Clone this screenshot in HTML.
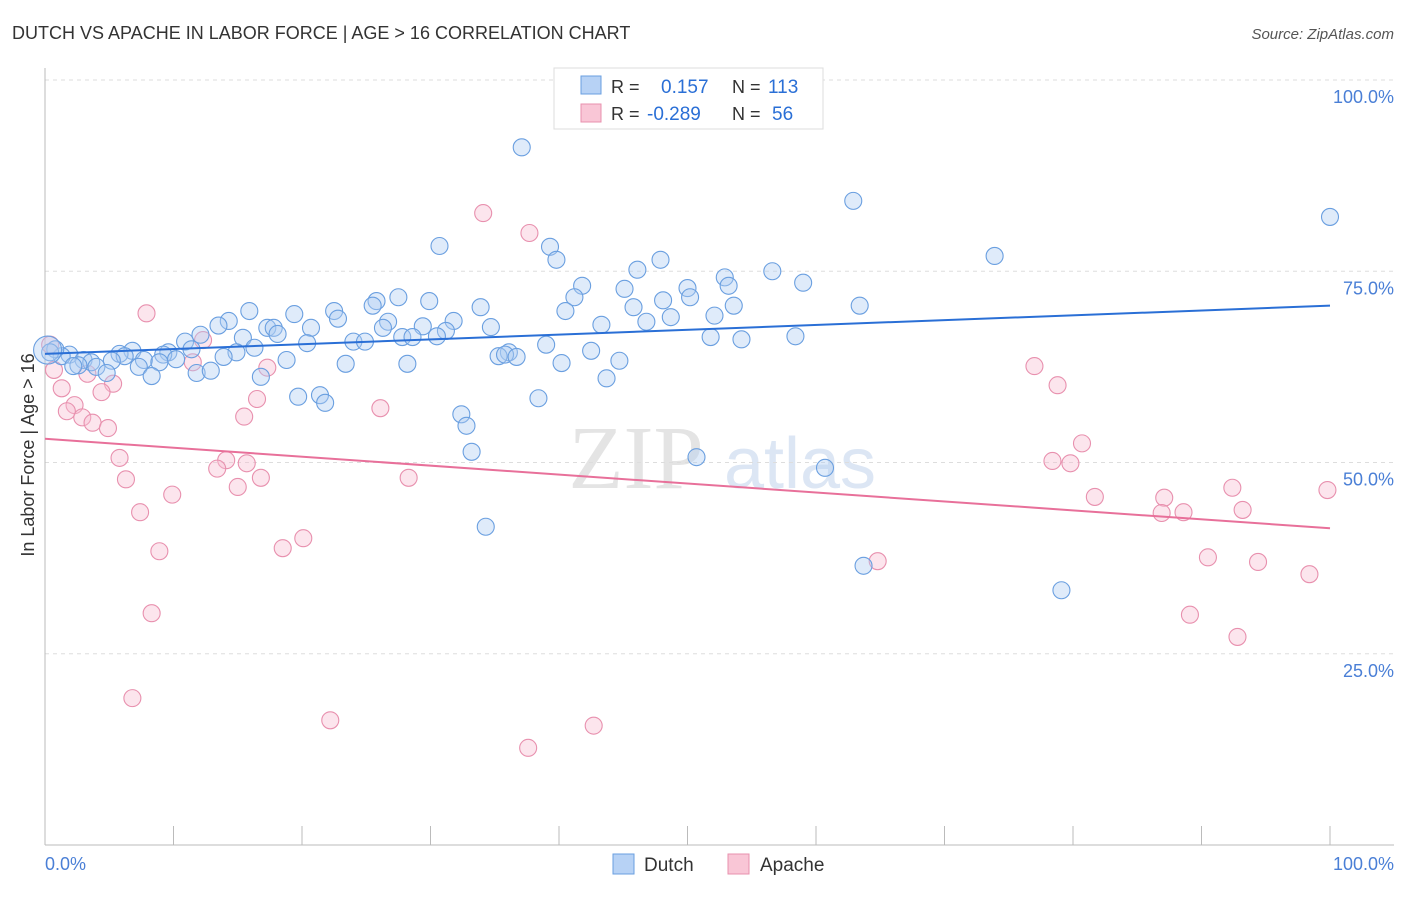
<!DOCTYPE html>
<html><head><meta charset="utf-8"><style>
body{margin:0;background:#fff;font-family:"Liberation Sans",sans-serif;}
</style></head><body>
<svg width="1406" height="892" viewBox="0 0 1406 892" xmlns="http://www.w3.org/2000/svg">
<text x="12" y="39" font-size="18" fill="#333">DUTCH VS APACHE IN LABOR FORCE | AGE &gt; 16 CORRELATION CHART</text>
<text x="1394" y="39" font-size="15" fill="#555" font-style="italic" text-anchor="end">Source: ZipAtlas.com</text>
<text x="636" y="488" font-size="90" fill="#e4e4e4" font-family="Liberation Serif" text-anchor="middle">ZIP</text>
<text x="800" y="488" font-size="72" fill="#dce6f4" text-anchor="middle">atlas</text>
<g id="grid"></g><g id="axes"></g><g id="pts"></g><g id="trends"></g>
<text x="34" y="455" font-size="18" fill="#333" text-anchor="middle" transform="rotate(-90 34 455)">In Labor Force | Age &gt; 16</text>
<text x="45" y="870" font-size="18" fill="#4a7fd6">0.0%</text>
<text x="1394" y="870" font-size="18" fill="#4a7fd6" text-anchor="end">100.0%</text>
<g>
<rect x="554" y="68" width="269" height="61" fill="#fff" stroke="#ddd"/>
<rect x="581" y="76" width="20" height="18" fill="#b7d2f5" stroke="#6a9fe0"/>
<rect x="581" y="104" width="20" height="18" fill="#f9c6d6" stroke="#e890ae"/>
<text x="611" y="93" font-size="18" fill="#333">R = </text><text x="661" y="93" font-size="19" fill="#2a6fd6">0.157</text>
<text x="732" y="93" font-size="18" fill="#333">N = </text><text x="768" y="93" font-size="19" fill="#2a6fd6">113</text>
<text x="611" y="120" font-size="18" fill="#333">R = </text><text x="647" y="120" font-size="19" fill="#2a6fd6">-0.289</text>
<text x="732" y="120" font-size="18" fill="#333">N = </text><text x="772" y="120" font-size="19" fill="#2a6fd6">56</text>
</g>
<g>
<rect x="613" y="854" width="21" height="20" fill="#b7d2f5" stroke="#6a9fe0"/>
<text x="644" y="871" font-size="19" fill="#333">Dutch</text>
<rect x="728" y="854" width="21" height="20" fill="#f9c6d6" stroke="#e890ae"/>
<text x="760" y="871" font-size="19" fill="#333">Apache</text>
</g>
</svg>
<script>
const yTicks=[25,50,75,100];
const yTickLabels=["25.0%","50.0%","75.0%","100.0%"];
const xTicks=[0,10,20,30,40,50,60,70,80,90,100];
const dutchX=[37.1,62.9,100,30.7,39.3,39.8,73.9,47.9,46.1,56.6,52.9,59.0,41.8,50.0,53.2,45.1,27.5,41.2,50.2,25.8,29.9,48.1,25.5,33.9,45.8,53.6,63.4,15.9,22.5,19.4,40.5,14.3,22.8,31.8,52.1,48.7,46.8,13.5,17.3,17.8,20.7,26.7,26.3,29.4,34.7,43.3,12.1,18.1,31.2,30.5,27.8,28.6,51.8,54.2,58.4,15.4,10.9,24.0,24.9,20.4,39.0,16.3,6.8,11.4,9.6,9.2,14.9,36.1,42.5,5.8,6.2,13.9,35.3,35.8,36.7,1.9,1.3,0.8,0.4,3.0,3.6,7.7,10.2,5.2,18.8,44.7,2.6,4.0,7.3,8.9,23.4,28.2,40.2,2.2,4.8,11.8,12.9,8.3,16.8,43.7,19.7,21.4,21.8,38.4,32.4,32.8,33.2,50.7,60.7,34.3,63.7,79.1,0.2];
const dutchY=[91.2,84.2,82.1,78.3,78.2,76.5,77.0,76.5,75.2,75.0,74.2,73.5,73.1,72.8,73.1,72.7,71.6,71.6,71.6,71.1,71.1,71.2,70.5,70.3,70.3,70.5,70.5,69.8,69.8,69.4,69.8,68.5,68.8,68.5,69.2,69.0,68.4,67.9,67.6,67.6,67.6,68.4,67.6,67.8,67.7,68.0,66.7,66.8,67.2,66.5,66.4,66.4,66.4,66.1,66.5,66.3,65.8,65.8,65.8,65.6,65.4,65.0,64.6,64.8,64.4,64.1,64.4,64.4,64.6,64.2,63.9,63.8,63.9,64.1,63.8,64.1,63.9,64.8,64.4,63.4,63.1,63.4,63.5,63.3,63.4,63.3,62.7,62.5,62.5,63.1,62.9,62.9,63.0,62.6,61.7,61.7,62.0,61.3,61.2,61.0,58.6,58.8,57.8,58.4,56.3,54.8,51.4,50.7,49.3,41.6,36.5,33.3,64.7];
const apacheX=[34.1,37.7,7.9,12.3,0.4,0.7,1.3,11.5,17.3,3.3,5.3,4.4,2.3,1.7,2.9,3.7,4.9,16.5,26.1,15.5,5.8,14.1,15.7,13.4,6.3,16.8,28.3,15.0,9.9,7.4,8.9,20.1,18.5,8.3,6.8,22.2,42.7,37.6,64.8,77.0,78.8,80.7,78.4,79.8,81.7,87.1,86.9,88.6,92.4,93.2,99.8,90.5,94.4,98.4,89.1,92.8];
const apacheY=[82.6,80.0,69.5,66.0,65.4,62.1,59.7,63.1,62.4,61.6,60.3,59.2,57.5,56.7,55.9,55.2,54.5,58.3,57.1,56.0,50.6,50.3,49.9,49.2,47.8,48.0,48.0,46.8,45.8,43.5,38.4,40.1,38.8,30.3,19.2,16.3,15.6,12.7,37.1,62.6,60.1,52.5,50.2,49.9,45.5,45.4,43.4,43.5,46.7,43.8,46.4,37.6,37.0,35.4,30.1,27.2];
const dutchTrend=[64.2,70.5];
const apacheTrend=[53.1,41.4];
const NS='http://www.w3.org/2000/svg';
const X=v=>45+v/100*1285, Y=v=>845-v/100*765;
function mk(t,a,p){const e=document.createElementNS(NS,t);for(const k in a)e.setAttribute(k,a[k]);p.appendChild(e);return e;}
const grid=document.getElementById('grid'),axes=document.getElementById('axes'),pts=document.getElementById('pts'),tr=document.getElementById('trends');
yTicks.forEach((t,i)=>{
 const l=mk('line',{x1:45,x2:1394,y1:Y(t),y2:Y(t),stroke:'#ddd','stroke-dasharray':'4,4'},grid);
 
 
 const tx=mk('text',{x:1394,y:Y(t)+23,'font-size':18,fill:'#4a7fd6','text-anchor':'end'},grid);
 tx.textContent=yTickLabels[i];
 
 
});
const ya=mk('line',{x1:45,x2:45,y1:68,y2:845,stroke:'#bbb'},axes);


const xa=mk('line',{x1:45,x2:1394,y1:845,y2:845,stroke:'#bbb'},axes);


xTicks.forEach(t=>{
 const l=mk('line',{x1:X(t),x2:X(t),y1:826,y2:845,stroke:'#bbb'},axes);
 
 
});
function series(xs,ys,fill,stroke,name){
 xs.forEach((v,i)=>{
  const r=(i==xs.length-1&&name=='dutch-point')?14:8.5;
  const c=mk('circle',{cx:X(v),cy:Y(ys[i]),r:r,fill:fill,'fill-opacity':0.4,stroke:stroke,'stroke-width':1.1},pts);
  
  
 });
}
series(apacheX,apacheY,'#f7bfd2','#e890ae','apache-point');
series(dutchX,dutchY,'#b0cdf3','#6a9fe0','dutch-point');
const dl=mk('line',{x1:X(0),x2:X(100),y1:Y(dutchTrend[0]),y2:Y(dutchTrend[1]),stroke:'#2a6fd6','stroke-width':2},tr);


const al=mk('line',{x1:X(0),x2:X(100),y1:Y(apacheTrend[0]),y2:Y(apacheTrend[1]),stroke:'#e8709a','stroke-width':2},tr);


</script>
</body></html>
